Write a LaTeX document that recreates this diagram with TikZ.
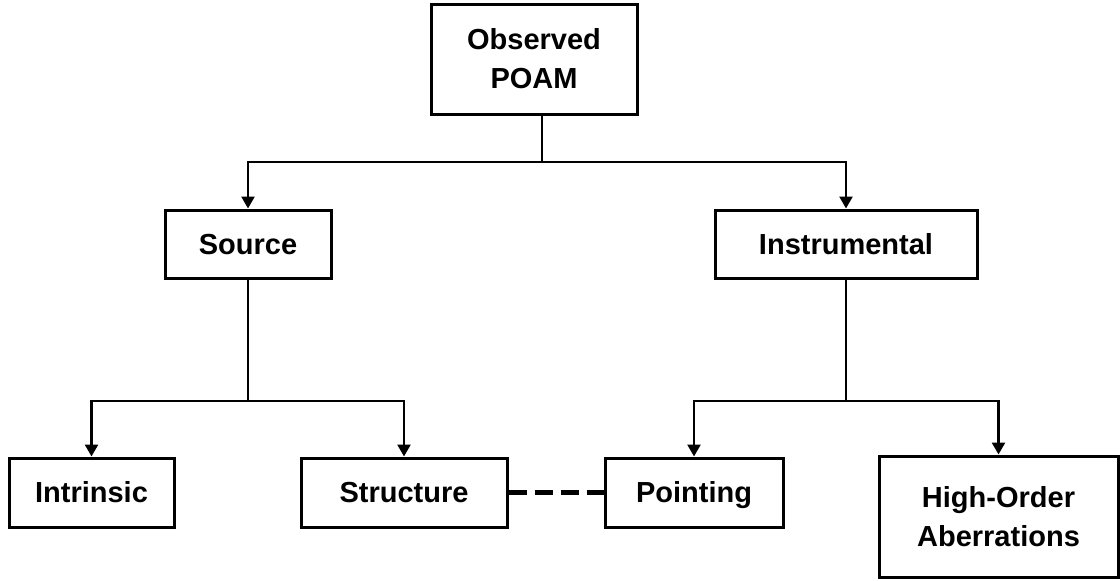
\documentclass[tikz,border=0pt]{standalone}
\usepackage{fontspec}
\setmainfont{Liberation Sans}
\usetikzlibrary{arrows.meta}
\begin{document}
\begin{tikzpicture}[x=1pt,y=-1pt,
  box/.style={draw=black,line width=3pt,fill=white,inner sep=0pt,align=center,
    font=\fontsize{29}{39}\selectfont\bfseries},
  oneline/.style={box,text height=20.8pt,text depth=0pt},
  conn/.style={draw=black,line width=2.6pt},
  arr/.style={conn,-{Triangle[width=13pt,length=12pt]}},
  dashlink/.style={draw=black,line width=5pt,dash pattern=on 18pt off 8pt}]
\useasboundingbox (0,0) rectangle (1120,581);
\fill[white] (0,0) rectangle (1120,581);
\node[box,minimum width=206pt,minimum height=110pt] (obs) at (534,59) {Observed\\POAM};
\node[oneline,minimum width=166pt,minimum height=68pt] (src) at (248,244) {Source};
\node[oneline,minimum width=262pt,minimum height=68pt] (ins) at (846,244) {Instrumental};
\node[oneline,minimum width=165pt,minimum height=69pt] (intr) at (91.5,492.5) {Intrinsic};
\node[oneline,minimum width=206pt,minimum height=69pt] (str) at (404,492.5) {Structure};
\node[oneline,minimum width=178pt,minimum height=69pt] (pnt) at (694,492.5) {Pointing};
\node[box,minimum width=239pt,minimum height=121pt] (hig) at (998.5,516.5) {High-Order\\Aberrations};
\coordinate (j1) at (542,162);
\coordinate (j2) at (248,401);
\coordinate (j3) at (846,401);
\draw[conn] (obs.south -| j1) -- (j1);
\draw[arr] (j1) -| (src.north);
\draw[arr] (j1) -| (ins.north);
\draw[conn] (src.south) -- (j2);
\draw[arr] (j2) -| (intr.north);
\draw[arr] (j2) -| (str.north);
\draw[conn] (ins.south) -- (j3);
\draw[arr] (j3) -| (pnt.north);
\draw[arr] (j3) -| (hig.north);
\draw[dashlink] (str.east) -- (pnt.west);
\end{tikzpicture}
\end{document}
